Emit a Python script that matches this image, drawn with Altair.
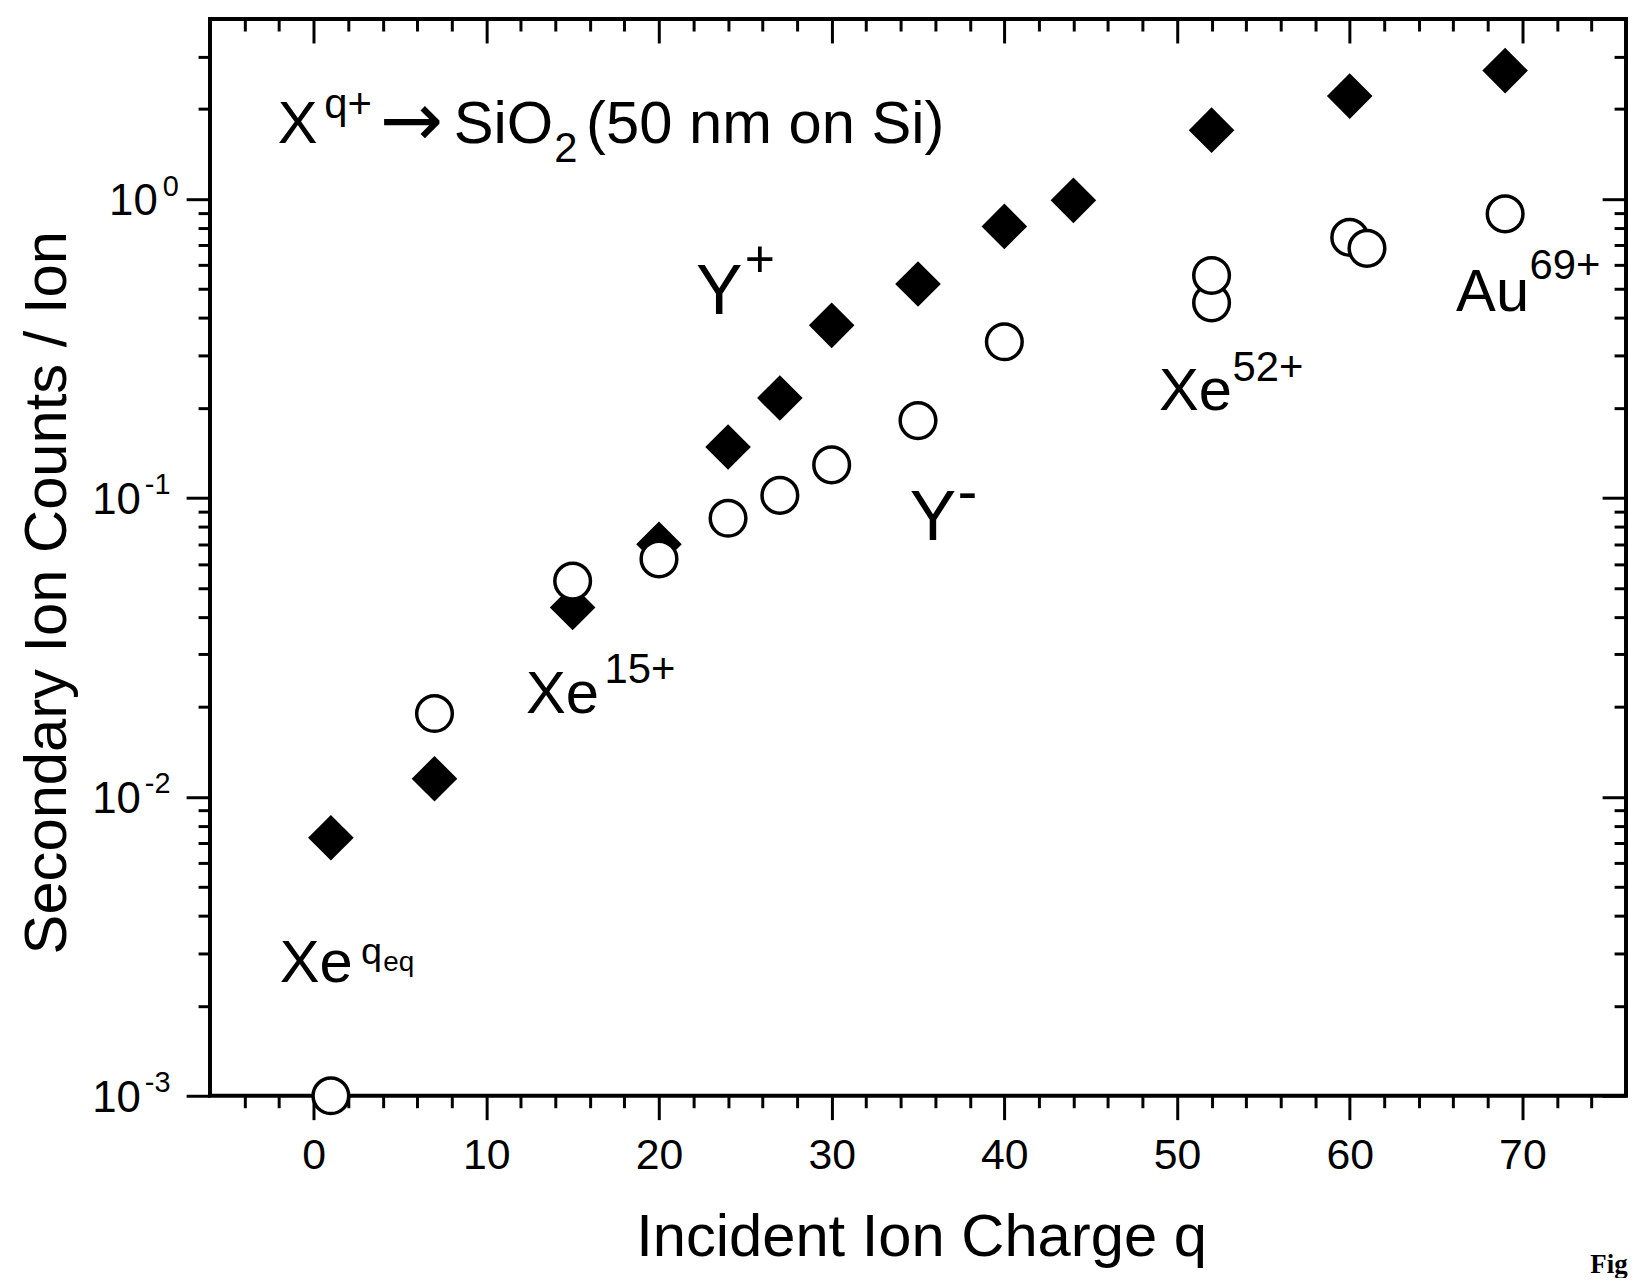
import altair as alt
import pandas as pd

# ---------------- data ----------------
# Y+ (filled diamonds)
q_pos = [1, 7, 15, 20, 24, 27, 30, 35, 40, 44, 52, 60, 69]
y_pos = [0.0073, 0.0115, 0.043, 0.070, 0.148, 0.216, 0.378, 0.52, 0.81, 0.99, 1.70, 2.21, 2.69]
# Y- (open circles)
q_neg = [1, 7, 15, 20, 24, 27, 30, 35, 40, 52, 52, 60, 61, 69]
y_neg = [0.001, 0.019, 0.0527, 0.0625, 0.0855, 0.102, 0.129, 0.1815, 0.333, 0.4495, 0.555, 0.744, 0.684, 0.892]

# axis ticks
x_major = [0, 10, 20, 30, 40, 50, 60, 70]
x_minor = [v for v in range(-4, 76, 2) if v % 10 != 0]
y_major = [0.001, 0.01, 0.1, 1]
y_minor = [round(m * 10 ** e, 6) for e in (-3, -2, -1) for m in range(2, 10)] + [2, 3]

# annotations (text, q position, y position)
ann_main_t = ["X", "SiO", "(50 nm on Si)", "Xe", "Xe", "Au", "Xe", "-"]
ann_main_x = [-2.07, 8.11, 15.78, 12.30, 48.95, 66.16, -1.96, 37.29]
ann_main_y = [1.541, 1.541, 1.541, 0.0191, 0.197, 0.4213, 0.002408, 0.0905]

ann_arrow_t = ["\u2192"]
ann_arrow_x = [3.85]
ann_arrow_y = [1.506]

ann_big_t = ["Y", "Y"]
ann_big_x = [22.15, 34.52]
ann_big_y = [0.4135, 0.07243]

ann_sup_t = ["q+", "2", "15+", "52+", "69+"]
ann_sup_x = [0.62, 13.94, 16.84, 53.21, 70.41]
ann_sup_y = [1.873, 1.331, 0.0241, 0.2463, 0.5385]

ann_plus_t = ["+"]
ann_plus_x = [24.96]
ann_plus_y = [0.5503]

ann_q_t = ["q"]
ann_q_x = [2.75]
ann_q_y = [0.002768]

ann_eq_t = ["eq"]
ann_eq_x = [4.03]
ann_eq_y = [0.002605]

ann_fig_t = ["Fig"]
ann_fig_x = [73.93]
ann_fig_y = [0.000256]

# ---------------- chart ----------------
W, H = 1423, 1082
FONT = "Liberation Sans"

xs = alt.Scale(domain=[-6, 76], nice=False, zero=False)
ys = alt.Scale(type="log", domain=[0.001, 4], nice=False)

df_pos = pd.DataFrame({"q": q_pos, "y": y_pos})
df_neg = pd.DataFrame({"q": q_neg, "y": y_neg})


def tdf(t, x, y):
    return pd.DataFrame({"t": t, "q": x, "y": y})


ax_bottom_major = alt.Axis(orient="bottom", values=x_major, tickSize=24, labelFontSize=43,
                           labelPadding=15, title="Incident Ion Charge q", titleFontSize=60,
                           titleX=W / 2 + 3, titleY=161, titleBaseline="alphabetic",
                           titleAlign="center", grid=False, domain=False, format="d")
ax_left_major = alt.Axis(orient="left", values=y_major, tickSize=24, labelFontSize=44,
                         labelExpr="'10'", labelAlign="right", labelBaseline="middle",
                         labelOffset=3,
                         labelPadding={"condition": {"test": "datum.value > 0.5", "value": 29}, "value": 46},
                         title="Secondary Ion Counts / Ion", titleFontSize=60, titleAngle=270,
                         titleX=-145, titleY=576, titleBaseline="alphabetic", titleAlign="center",
                         grid=False, domain=False, labelOverlap=False)
ax_bottom_minor = alt.Axis(orient="bottom", values=x_minor, tickSize=12, labels=False,
                           title=None, grid=False, domain=False)
ax_left_minor = alt.Axis(orient="left", values=y_minor, tickSize=12, labels=False,
                         title=None, grid=False, domain=False)
ax_top_major = alt.Axis(orient="bottom", offset=-H, values=x_major, tickSize=24, labels=False,
                        title=None, grid=False, domain=False)
ax_top_minor = alt.Axis(orient="bottom", offset=-H, values=x_minor, tickSize=12, labels=False,
                        title=None, grid=False, domain=False)
ax_right_major = alt.Axis(orient="left", offset=-W, values=y_major, tickSize=24, labels=False,
                          title=None, grid=False, domain=False)
ax_right_minor = alt.Axis(orient="left", offset=-W, values=y_minor, tickSize=12, labels=False,
                          title=None, grid=False, domain=False)
ax_left_exp = alt.Axis(orient="left", values=y_major, tickSize=0, tickOpacity=0, labelFontSize=29,
                       labelExpr="'' + round(log(datum.value) / LN10)", labelAlign="left",
                       labelBaseline="alphabetic", labelOffset=-4,
                       labelPadding={"condition": {"test": "datum.value > 0.5", "value": 48}, "value": 66},
                       title=None, grid=False, domain=False, labelOverlap=False)

diamonds = alt.Chart(df_pos).mark_point(
    shape="diamond", filled=True, color="black", size=2100, opacity=1, strokeWidth=0
).encode(
    x=alt.X("q:Q", scale=xs, axis=ax_bottom_major),
    y=alt.Y("y:Q", scale=ys, axis=ax_left_major),
)

circles = alt.Chart(df_neg).mark_point(
    shape="circle", filled=True, fill="white", stroke="black", strokeWidth=3.5,
    size=1282, opacity=1
).encode(
    x=alt.X("q:Q", scale=xs, axis=ax_bottom_minor),
    y=alt.Y("y:Q", scale=ys, axis=ax_left_minor),
)


def text_layer(df, size, xaxis, yaxis, font=FONT, weight="normal"):
    return alt.Chart(df).mark_text(
        align="left", baseline="alphabetic", fontSize=size, font=font,
        fontWeight=weight, color="black"
    ).encode(
        x=alt.X("q:Q", scale=xs, axis=xaxis),
        y=alt.Y("y:Q", scale=ys, axis=yaxis),
        text="t:N",
    )


t_main = text_layer(tdf(ann_main_t, ann_main_x, ann_main_y), 60, ax_top_major, ax_right_major)
t_big = text_layer(tdf(ann_big_t, ann_big_x, ann_big_y), 70, ax_top_minor, ax_right_minor)
t_sup = text_layer(tdf(ann_sup_t, ann_sup_x, ann_sup_y), 42, None, ax_left_exp)
t_arrow = text_layer(tdf(ann_arrow_t, ann_arrow_x, ann_arrow_y), 76, None, None, font="DejaVu Sans")
t_plus = text_layer(tdf(ann_plus_t, ann_plus_x, ann_plus_y), 52, None, None)
t_q = text_layer(tdf(ann_q_t, ann_q_x, ann_q_y), 38, None, None)
t_eq = text_layer(tdf(ann_eq_t, ann_eq_x, ann_eq_y), 28, None, None)
t_fig = text_layer(tdf(ann_fig_t, ann_fig_x, ann_fig_y), 27, None, None,
                   font="Liberation Serif", weight="bold")

chart = alt.layer(
    diamonds, circles, t_main, t_big, t_sup, t_arrow, t_plus, t_q, t_eq, t_fig
).resolve_axis(
    x="independent", y="independent"
).properties(
    width=W, height=H,
    autosize=alt.AutoSizeParams(type="none"),
    padding={"left": 203, "top": 8, "right": 2, "bottom": 180},
    background="white",
).configure_view(
    stroke="black", strokeWidth=4
).configure_axis(
    labelFont=FONT, titleFont=FONT, labelColor="black", titleColor="black",
    tickColor="black", tickWidth=3, titleFontWeight="normal", labelFontWeight="normal",
)

chart.save("out.html", embed_options={"renderer": "svg", "actions": False})
